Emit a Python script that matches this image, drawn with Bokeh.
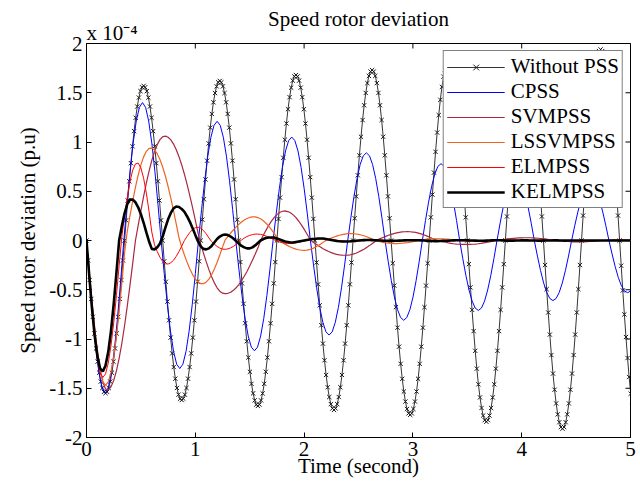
import numpy as np
from bokeh.plotting import figure
from bokeh.models import FixedTicker, Range1d, Legend, LegendItem, Title
from bokeh.embed import file_html
from bokeh.resources import INLINE

FONT = "Liberation Serif"
FS = "21px"

# ---------------- data (speed deviation in units of 1e-4 p.u.) ----------------
x_ticks = [0, 1, 2, 3, 4, 5]
y_ticks = [-2, -1.5, -1, -0.5, 0, 0.5, 1, 1.5, 2]
y_tick_labels = ["-2", "-1.5", "-1", "-0.5", "0", "0.5", "1", "1.5", "2"]

series_names = ["Without PSS", "CPSS", "SVMPSS", "LSSVMPSS", "ELMPSS", "KELMPSS"]

# Without PSS: sampled every 0.7/48 s
w_step = 0.7 / 48
without_pss = [
    0, -.202, -.401, -.593, -.775, -.944, -1.096, -1.230, -1.342, -1.432, -1.497, -1.537, -1.55, -1.537, -1.497, -1.432, -1.342, -1.230, -1.096, -.944, -.775, -.593, -.401, -.202,
    0, .205, .406, .601, .785, .956, 1.110, 1.246, 1.360, 1.451, 1.516, 1.556, 1.57, 1.556, 1.516, 1.451, 1.360, 1.246, 1.110, .956, .785, .601, .406, .205,
    0, -.211, -.419, -.620, -.810, -.986, -1.146, -1.285, -1.403, -1.497, -1.565, -1.606, -1.62, -1.606, -1.565, -1.497, -1.403, -1.285, -1.146, -.986, -.810, -.620, -.419, -.211,
    0, .211, .419, .620, .810, .986, 1.146, 1.285, 1.403, 1.497, 1.565, 1.606, 1.62, 1.606, 1.565, 1.497, 1.403, 1.285, 1.146, .986, .810, .620, .419, .211,
    0, -.219, -.435, -.643, -.840, -1.023, -1.188, -1.333, -1.455, -1.552, -1.623, -1.666, -1.68, -1.666, -1.623, -1.552, -1.455, -1.333, -1.188, -1.023, -.840, -.643, -.435, -.219,
    0, .219, .435, .643, .840, 1.023, 1.188, 1.333, 1.455, 1.552, 1.623, 1.666, 1.68, 1.666, 1.623, 1.552, 1.455, 1.333, 1.188, 1.023, .840, .643, .435, .219,
    0, -.224, -.445, -.658, -.860, -1.047, -1.216, -1.365, -1.490, -1.589, -1.661, -1.705, -1.72, -1.705, -1.661, -1.589, -1.490, -1.365, -1.216, -1.047, -.860, -.658, -.445, -.224,
    0, .226, .448, .662, .865, 1.053, 1.223, 1.373, 1.498, 1.598, 1.671, 1.715, 1.73, 1.715, 1.671, 1.598, 1.498, 1.373, 1.223, 1.053, .865, .662, .448, .226,
    0, -.231, -.458, -.677, -.885, -1.078, -1.252, -1.404, -1.533, -1.635, -1.710, -1.755, -1.77, -1.755, -1.710, -1.635, -1.533, -1.404, -1.252, -1.078, -.885, -.677, -.458, -.231,
    0, .235, .466, .689, .900, 1.096, 1.273, 1.428, 1.559, 1.663, 1.739, 1.785, 1.80, 1.785, 1.739, 1.663, 1.559, 1.428, 1.273, 1.096, .900, .689, .466, .235,
    0, -.240, -.476, -.704, -.920, -1.120, -1.301, -1.460, -1.593, -1.700, -1.777, -1.824, -1.84, -1.824, -1.777, -1.700, -1.593, -1.460, -1.301, -1.120, -.920, -.704, -.476, -.240,
    0, .244, .484, .716, .935, 1.138, 1.322, 1.484, 1.619, 1.728, 1.806, 1.854, 1.87, 1.854, 1.806, 1.728, 1.619, 1.484, 1.322, 1.138, .935, .716, .484, .244,
    0, -.249, -.494, -.731, -.955, -1.163, -1.351, -1.515, -1.654, -1.765, -1.845, -1.894, -1.91, -1.894, -1.845, -1.765, -1.654, -1.515, -1.351, -1.163, -.955, -.731, -.494, -.249,
    0, .253, .502, .742, .970, 1.181, 1.372, 1.539, 1.680, 1.792, 1.874, 1.923, 1.94, 1.923, 1.874, 1.792, 1.680, 1.539, 1.372, 1.181, .970, .742, .502, .253,
    0, -.256, -.507, -.750, -.980, -1.193, -1.386, -1.555, -1.690,
]

# CPSS: sampled every 0.686/24 s
c_step = 0.686 / 24
cpss = [
    0, -.401, -.775, -1.096, -1.342, -1.497, -1.55, -1.497, -1.342, -1.096, -.775, -.401,
    0, .362, .70, .990, 1.212, 1.352, 1.40, 1.352, 1.212, .990, .70, .362,
    0, -.336, -.65, -.919, -1.126, -1.256, -1.30, -1.256, -1.126, -.919, -.65, -.336,
    0, .313, .605, .856, 1.048, 1.169, 1.21, 1.169, 1.048, .856, .605, .313,
    0, -.290, -.56, -.792, -.970, -1.082, -1.12, -1.082, -.970, -.792, -.56, -.290,
    0, .272, .525, .742, .909, 1.014, 1.05, 1.014, .909, .742, .525, .272,
    0, -.248, -.48, -.679, -.831, -.927, -.96, -.927, -.831, -.679, -.48, -.248,
    0, .230, .445, .629, .771, .860, .89, .860, .771, .629, .445, .230,
    0, -.210, -.405, -.573, -.701, -.782, -.81, -.782, -.701, -.573, -.405, -.210,
    0, .202, .39, .552, .675, .753, .78, .753, .675, .552, .39, .202,
    0, -.184, -.355, -.502, -.615, -.686, -.71, -.686, -.615, -.502, -.355, -.184,
    0, .176, .34, .481, .589, .657, .68, .657, .589, .481, .34, .176,
    0, -.158, -.305, -.431, -.528, -.589, -.61, -.589, -.528, -.431, -.305, -.158,
    0, .150, .29, .410, .502, .560, .58, .560, .502, .410, .29, .150,
    0, -.137, -.265, -.375, -.459, -.512, -.53, -.512,
]

# Other controllers: sampled every 0.025 s
step = 0.025
svmpss = [
    0, -0.311, -0.611, -0.883, -1.119, -1.306, -1.438, -1.508,
    -1.517, -1.486, -1.421, -1.324, -1.196, -1.043, -0.863, -0.664, -0.451, -0.229, 0.0,
    0.153, 0.304, 0.448, 0.582, 0.705, 0.812, 0.902, 0.973, 1.024, 1.053, 1.06,
    1.048, 1.022, 0.979, 0.922, 0.851, 0.767, 0.673, 0.567, 0.453, 0.333, 0.207, 0.078,
    -0.037, -0.128, -0.215, -0.296, -0.368, -0.43, -0.48, -0.515, -0.535, -0.54,
    -0.536, -0.525, -0.506, -0.48, -0.447, -0.408, -0.363, -0.314, -0.259, -0.2, -0.14, -0.077, 0.0,
    0.053, 0.105, 0.153, 0.196, 0.233, 0.263, 0.285, 0.297, 0.30,
    0.294, 0.281, 0.26, 0.232, 0.198, 0.158, 0.115, 0.068, 0.02,
    -0.011, -0.03, -0.049, -0.066, -0.083, -0.098, -0.111, -0.123, -0.133, -0.141, -0.146, -0.149, -0.15,
    -0.149, -0.145, -0.138, -0.129, -0.117, -0.103, -0.088, -0.07, -0.052, -0.032, -0.012,
    0.007, 0.019, 0.031, 0.042, 0.053, 0.062, 0.07, 0.077, 0.083, 0.087, 0.089, 0.09,
    0.089, 0.086, 0.082, 0.075, 0.067, 0.058, 0.047, 0.036, 0.023, 0.011, 0.0,
    -0.004, -0.012, -0.018, -0.024, -0.029, -0.033, -0.036, -0.038, -0.04, -0.04, -0.04,
    -0.04, -0.038, -0.036, -0.033, -0.029, -0.024, -0.019, -0.014, -0.009, -0.004, 0.0,
    0.004, 0.008, 0.012, 0.016, 0.019, 0.022, 0.024, 0.026, 0.027, 0.028, 0.028,
    0.028, 0.027, 0.025, 0.023, 0.02, 0.017, 0.014, 0.01, 0.007, 0.003, 0.0,
    -0.003, -0.006, -0.008, -0.01, -0.012, -0.013, -0.014, -0.014, -0.014, -0.013,
    -0.012, -0.01, -0.008, -0.006, -0.004, -0.002, 0.0,
    0.002, 0.004, 0.005, 0.006, 0.007, 0.007, 0.007, 0.006, 0.005, 0.004,
]

lssvmpss = [
    0, -0.328, -0.638, -0.917, -1.149, -1.325, -1.433, -1.47,
    -1.436, -1.339, -1.182, -0.972, -0.717, -0.43, -0.125,
    0.096, 0.254, 0.403, 0.542, 0.665, 0.768, 0.849, 0.905, 0.935,
    0.938, 0.92, 0.881, 0.822, 0.746, 0.655, 0.548, 0.43, 0.302, 0.166, 0.028,
    -0.066, -0.147, -0.222, -0.29, -0.346, -0.391, -0.422, -0.438,
    -0.438, -0.423, -0.392, -0.348, -0.29, -0.223, -0.147, -0.067,
    0.007, 0.042, 0.076, 0.108, 0.138, 0.165, 0.188, 0.208, 0.223, 0.234, 0.239, 0.24,
    0.233, 0.22, 0.2, 0.175, 0.145, 0.11, 0.072, 0.033,
    -0.003, -0.02, -0.037, -0.052, -0.066, -0.078, -0.087, -0.094, -0.099, -0.1,
    -0.098, -0.092, -0.083, -0.07, -0.054, -0.037, -0.019, 0.0,
    0.012, 0.024, 0.035, 0.045, 0.053, 0.06, 0.065, 0.069, 0.07, 0.069, 0.066, 0.062,
    0.056, 0.048, 0.038, 0.027, 0.015, 0.004, -0.005, -0.013, -0.019, -0.024,
    -0.028, -0.03, -0.031, -0.031, -0.03, -0.028, -0.025, -0.021, -0.016, -0.011,
    -0.006, -0.001, 0.004, 0.008, 0.011, 0.014, 0.016, 0.017, 0.018, 0.018,
    0.017, 0.015, 0.013, 0.01, 0.007, 0.004, 0.001, -0.002, -0.004, -0.006,
    -0.007, -0.008, -0.008, -0.008, -0.007, -0.006, -0.005, -0.003, -0.002, 0.0,
    0.001, 0.002, 0.003, 0.004, 0.004, 0.004, 0.004, 0.003, 0.002, 0.001,
    0.0, -0.001, -0.002, -0.002, -0.002, -0.002, -0.001, 0.0, 0.0, 0.001,
    0.001, 0.001, 0.001, 0.0, 0.0, 0.0, -0.001, -0.001, 0.0, 0.0,
    0.0, 0.0, 0.0, 0.0, 0.0, 0.0, 0.0, 0.0, 0.0, 0.0,
    0.0, 0.0, 0.0, 0.0, 0.0, 0.0, 0.0, 0.0, 0.0, 0.0,
]

elmpss = [
    0, -0.36, -0.695, -0.983, -1.204, -1.343, -1.39,
    -1.354, -1.244, -1.069, -0.838, -0.561, -0.256,
    0.043, 0.25, 0.44, 0.60, 0.715, 0.778,
    0.786, 0.737, 0.632, 0.481, 0.295, 0.087,
    -0.043, -0.112, -0.17, -0.212, -0.236,
    -0.239, -0.226, -0.2, -0.161, -0.113, -0.058, 0.0,
    0.043, 0.082, 0.112, 0.13, 0.135,
    0.125, 0.101, 0.068, 0.026,
    -0.011, -0.037, -0.06, -0.077, -0.087, -0.09,
    -0.085, -0.075, -0.06, -0.04, -0.015,
    0.005, 0.025, 0.04, 0.052, 0.06, 0.065, 0.065, 0.062, 0.055, 0.045, 0.033, 0.02,
    0.007, -0.005, -0.015, -0.022, -0.027, -0.03, -0.03, -0.028, -0.024, -0.018, -0.012, -0.005,
    0.0, 0.005, 0.01, 0.013, 0.015, 0.016, 0.016, 0.015, 0.013, 0.01,
    0.007, 0.004, 0.0, -0.003, -0.006, -0.008, -0.009, -0.009, -0.008, -0.006, -0.004, -0.002, 0.0,
    0.002, 0.003, 0.004, 0.004, 0.003, 0.002, 0.0, -0.001, -0.002, -0.003,
    -0.003, -0.002, -0.001, 0.0, 0.001, 0.002, 0.002, 0.002, 0.001, 0.0,
    -0.001, -0.001, -0.002, -0.001, -0.001, 0.0, 0.0, 0.001, 0.001, 0.001,
    0.001, 0.0, 0.0, -0.001, -0.001, -0.001, 0.0, 0.0, 0.0, 0.0,
    0.0, 0.0, 0.0, 0.0, 0.0, 0.0, 0.0, 0.0, 0.0, 0.0,
    0.0, 0.0, 0.0, 0.0, 0.0, 0.0, 0.0, 0.0, 0.0, 0.0,
    0.0, 0.0, 0.0, 0.0, 0.0, 0.0, 0.0, 0.0, 0.0, 0.0,
    0.0, 0.0, 0.0, 0.0, 0.0, 0.0, 0.0, 0.0, 0.0, 0.0,
    0.0, 0.0, 0.0, 0.0, 0.0, 0.0, 0.0, 0.0, 0.0, 0.0,
    0.0, 0.0, 0.0, 0.0, 0.0, 0.0, 0.0,
]

kelmpss = [
    0, -0.355, -0.685, -0.966, -1.174, -1.299, -1.33, -1.27, -1.13, -0.92, -0.645, -0.33, 0.0,
    0.147, 0.276, 0.369, 0.416, 0.415, 0.388, 0.337, 0.267, 0.18, 0.082, -0.01, -0.085,
    -0.09, -0.07, -0.03, 0.04, 0.13, 0.215, 0.28, 0.326, 0.345, 0.34, 0.32, 0.29, 0.244, 0.19, 0.125, 0.057,
    -0.01, -0.06, -0.085, -0.09, -0.08, -0.055, -0.02, 0.015, 0.04, 0.055,
    0.06, 0.055, 0.04, 0.02, -0.005, -0.03, -0.055, -0.07, -0.08, -0.08,
    -0.07, -0.05, -0.025, 0.0, 0.015, 0.025, 0.03, 0.03, 0.03, 0.02,
    0.01, 0.0, -0.01, -0.015, -0.02, -0.02, -0.015, -0.01, -0.005, 0.0,
    0.005, 0.01, 0.015, 0.015, 0.02, 0.02, 0.02, 0.015, 0.01, 0.005,
    0.0, -0.005, -0.008, -0.01, -0.01, -0.01, -0.008, -0.005, -0.002, 0.0,
    0.002, 0.004, 0.005, 0.005, 0.004, 0.003, 0.001, 0.0, -0.002, -0.003,
    -0.004, -0.004, -0.003, -0.002, -0.001, 0.0, 0.001, 0.002, 0.003, 0.003,
    0.003, 0.002, 0.001, 0.0, -0.002, -0.004, -0.005, -0.006, -0.006, -0.005,
    -0.004, -0.003, -0.002, 0.0, 0.001, 0.002, 0.003, 0.003, 0.002, 0.001,
    0.0, 0.0, -0.001, -0.002, -0.002, -0.002, -0.001, 0.0, 0.001, 0.002,
    0.002, 0.002, 0.001, 0.0, -0.001, -0.001, -0.001, 0.0, 0.0, 0.001,
    0.001, 0.001, 0.0, 0.0, 0.0, -0.001, -0.001, 0.0, 0.0, 0.0,
    0.0, 0.001, 0.001, 0.0, 0.0, -0.001, 0.0, 0.0, 0.0, 0.0,
    0.0, 0.0, 0.0, 0.0, 0.0, 0.0, 0.0, 0.0, 0.0, 0.0,
    0.0, 0.0, 0.0, 0.0, 0.0, 0.0, 0.0, 0.0, 0.0, 0.0,
]

def times(values, dt):
    return np.arange(len(values)) * dt

# ---------------- figure ----------------
p = figure(width=640, height=483, output_backend="svg", toolbar_location=None,
           x_range=Range1d(0, 5), y_range=Range1d(-2, 2),
           min_border_left=86, min_border_right=10, min_border_top=43, min_border_bottom=46,
           title="Speed rotor deviation")
# outer title: the chart title
p.title.align = "center"
p.title.text_font = FONT
p.title.text_font_size = FS
p.title.text_font_style = "normal"
p.title.text_color = "black"
p.title.standoff = -22

# inner title: exponent of the y axis, left aligned with the frame
exp_title = Title(text="x 10\u207b\u2074", align="left", text_font=FONT,
                  text_font_size=FS, text_font_style="normal", text_color="black",
                  standoff=-2)
p.add_layout(exp_title, "above")

p.xgrid.visible = False
p.ygrid.visible = False
p.outline_line_color = "black"
p.outline_line_width = 1
p.background_fill_color = "white"
p.border_fill_color = "white"

def style_axis(ax):
    ax.axis_line_color = "black"
    ax.major_tick_line_color = "black"
    ax.major_tick_in = 5
    ax.major_tick_out = 0
    ax.minor_tick_line_color = None
    ax.major_label_text_font = FONT
    ax.major_label_text_color = "black"
    ax.major_label_text_font_size = FS
    ax.axis_label_text_font = FONT
    ax.axis_label_text_font_size = FS
    ax.axis_label_text_font_style = "normal"
    ax.axis_label_text_color = "black"

xa = p.xaxis[0]
xa.ticker = FixedTicker(ticks=x_ticks)
xa.major_label_overrides = {t: str(t) for t in x_ticks}
style_axis(xa)
xa.major_label_standoff = 4
xa.axis_label = "Time (second)"
xa.axis_label_standoff = -5

ya = p.yaxis[0]
ya.ticker = FixedTicker(ticks=y_ticks)
ya.major_label_overrides = {t: s for t, s in zip(y_ticks, y_tick_labels)}
style_axis(ya)
ya.major_label_standoff = 4
ya.axis_label = "Speed rotor deviation (p.u)"
ya.axis_label_standoff = 6

# inward ticks on the top and right edges of the box (half of each dash is clipped)
p.scatter(x_ticks, [y_ticks[-1]] * len(x_ticks), marker="dash", angle=np.pi / 2,
          size=10, line_color="black", line_width=1)
p.scatter([x_ticks[-1]] * len(y_ticks), y_ticks, marker="dash",
          size=10, line_color="black", line_width=1)

# ---------------- series ----------------
r_w_line = p.line(times(without_pss, w_step), without_pss, line_color="black", line_width=0.8)
r_w_pts = p.scatter(times(without_pss, w_step), without_pss, marker="x", size=6,
                    line_color="#1a1a1a", line_width=1)
r_c = p.line(times(cpss, c_step), cpss, line_color="#0000ff", line_width=1)
r_s = p.line(times(svmpss, step), svmpss, line_color="#a8283f", line_width=1.2)
r_l = p.line(times(lssvmpss, step), lssvmpss, line_color="#f06422", line_width=1.2)
r_e = p.line(times(elmpss, step), elmpss, line_color="#ff0000", line_width=1)
r_k = p.line(times(kelmpss, step), kelmpss, line_color="black", line_width=2.6)

legend = Legend(items=[
    LegendItem(label=series_names[0], renderers=[r_w_line, r_w_pts]),
    LegendItem(label=series_names[1], renderers=[r_c]),
    LegendItem(label=series_names[2], renderers=[r_s]),
    LegendItem(label=series_names[3], renderers=[r_l]),
    LegendItem(label=series_names[4], renderers=[r_e]),
    LegendItem(label=series_names[5], renderers=[r_k]),
], location="top_right")
legend.margin = 7
legend.padding = 3
legend.spacing = 0
legend.glyph_width = 58
legend.glyph_height = 20
legend.label_height = 20
legend.label_standoff = 6
legend.label_text_font = FONT
legend.label_text_font_size = FS
legend.label_text_color = "black"
legend.border_line_color = "black"
legend.border_line_width = 1
legend.background_fill_color = "white"
legend.background_fill_alpha = 1
p.add_layout(legend, "center")

open("out.html", "w").write(file_html(p, INLINE))
